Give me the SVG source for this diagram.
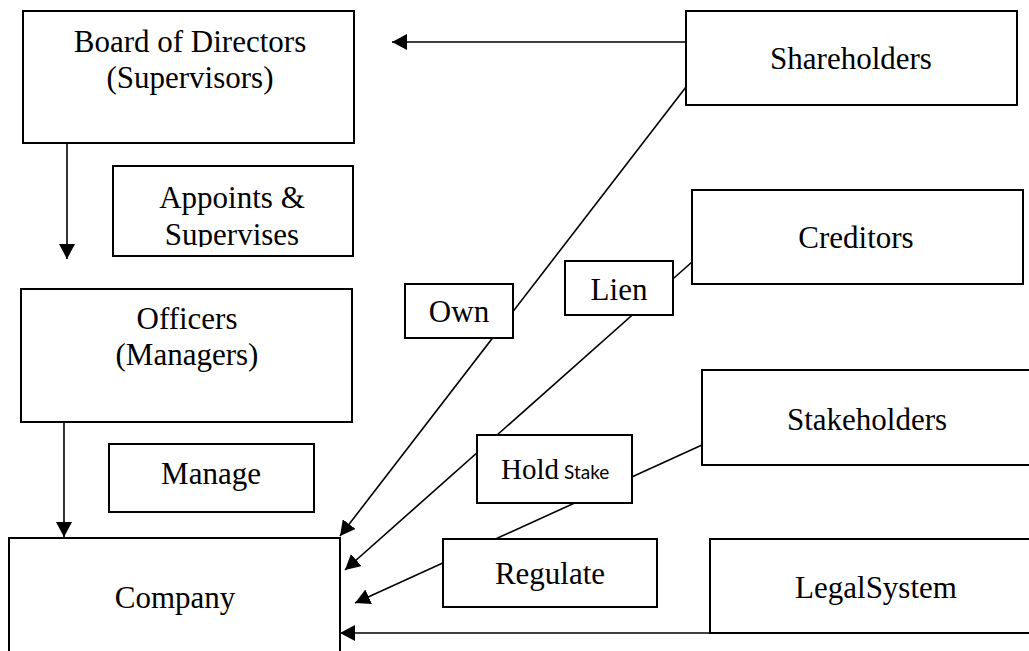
<svg xmlns="http://www.w3.org/2000/svg" width="1029" height="651" viewBox="0 0 1029 651">
<style>
.box{fill:#fff;stroke:#000;stroke-width:2}
.t{font-family:"Liberation Serif","Times New Roman",serif;font-size:31px;fill:#000;text-anchor:middle}
.s{font-family:Lato,"Open Sans",sans-serif;font-size:19px;fill:#000}
.ln{fill:none;stroke:#000;stroke-width:1.6}
</style>
<defs>
<marker id="ah" markerUnits="userSpaceOnUse" markerWidth="16" markerHeight="16" refX="15" refY="8" orient="auto" viewBox="0 0 16 16">
<path d="M0,0 L15,8 L0,16 z" fill="#000"/>
</marker>
<clipPath id="clipApp"><rect x="113" y="166" width="240" height="81"/></clipPath>
</defs>
<rect width="1029" height="651" fill="#fff"/>
<g id="connectors">
<line class="ln" x1="67" y1="144" x2="67" y2="259" marker-end="url(#ah)"/>
<line class="ln" x1="64" y1="422" x2="64" y2="537" marker-end="url(#ah)"/>
<line class="ln" x1="686" y1="42" x2="392" y2="42" marker-end="url(#ah)"/>
<line class="ln" x1="686" y1="87" x2="340" y2="536" marker-end="url(#ah)"/>
<line class="ln" x1="692" y1="262" x2="345" y2="570" marker-end="url(#ah)"/>
<line class="ln" x1="702" y1="445" x2="355" y2="603" marker-end="url(#ah)"/>
<line class="ln" x1="733" y1="633" x2="340" y2="633" marker-end="url(#ah)"/>
</g>
<g id="board">
<rect class="box" x="23" y="11" width="331" height="132"/>
<text class="t" x="190" y="52">Board of Directors</text>
<text class="t" x="190" y="88">(Supervisors)</text>
</g>
<g id="appoints">
<rect class="box" x="113" y="166" width="240" height="90"/>
<g clip-path="url(#clipApp)">
<text class="t" x="232" y="208">Appoints &amp;</text>
<text class="t" x="232" y="245">Supervises</text>
</g>
</g>
<g id="officers">
<rect class="box" x="21" y="289" width="331" height="133"/>
<text class="t" x="187" y="329">Officers</text>
<text class="t" x="187" y="365">(Managers)</text>
</g>
<g id="manage">
<rect class="box" x="109" y="444" width="205" height="68"/>
<text class="t" x="211" y="484">Manage</text>
</g>
<g id="company">
<rect class="box" x="9" y="538" width="331" height="125"/>
<text class="t" x="175" y="608">Company</text>
</g>
<g id="shareholders">
<rect class="box" x="686" y="11" width="331" height="94"/>
<text class="t" x="851" y="69">Shareholders</text>
</g>
<g id="creditors">
<rect class="box" x="692" y="190" width="331" height="94"/>
<text class="t" x="856" y="248">Creditors</text>
</g>
<g id="own">
<rect class="box" x="405" y="284" width="108" height="54"/>
<text class="t" x="459" y="322">Own</text>
</g>
<g id="lien">
<rect class="box" x="565" y="261" width="108" height="54"/>
<text class="t" x="619" y="300">Lien</text>
</g>
<g id="stakeholders">
<rect class="box" x="702" y="370" width="340" height="95"/>
<text class="t" x="867" y="430">Stakeholders</text>
</g>
<g id="holdstake">
<rect class="box" x="477" y="435" width="155" height="68"/>
<text x="501" y="479"><tspan class="t" style="text-anchor:start;font-size:29px">Hold</tspan><tspan class="s" dx="5">Stake</tspan></text>
</g>
<g id="regulate">
<rect class="box" x="443" y="539" width="214" height="68"/>
<text class="t" x="550" y="584">Regulate</text>
</g>
<g id="legalsystem">
<rect class="box" x="710" y="539" width="330" height="94"/>
<text class="t" x="876" y="598">LegalSystem</text>
</g>
</svg>
